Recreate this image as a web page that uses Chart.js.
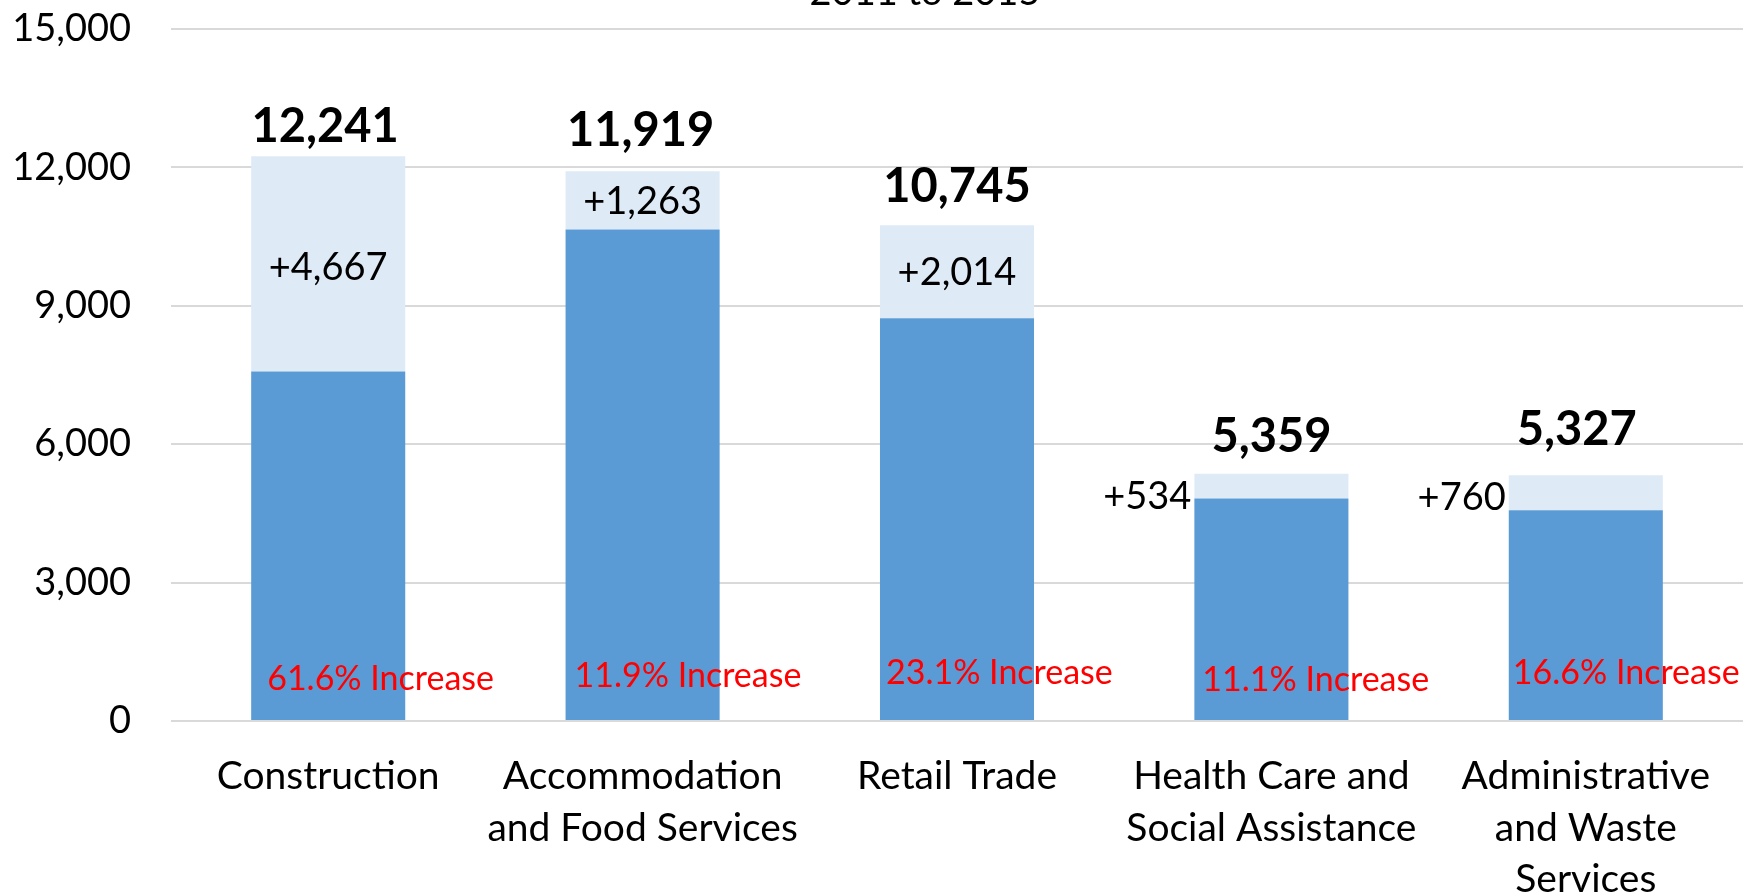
<!DOCTYPE html>
<html>
<head>
<meta charset="utf-8">
<script src="https://cdn.jsdelivr.net/npm/chart.js@4.4.1/dist/chart.umd.min.js"></script>
<style>
html,body{margin:0;padding:0;background:#fff;}
#wrap{width:1752px;height:896px;position:relative;}
</style>
</head>
<body>
<div id="wrap"><canvas id="c" width="1752" height="896"></canvas></div>
<script>
// ---- data ----
const categories = [
  "Construction",
  ["Accommodation", "and Food Services"],
  "Retail Trade",
  ["Health Care and", "Social Assistance"],
  ["Administrative", "and Waste", "Services"]
];
const totals2015 = [12241, 11919, 10745, 5359, 5327];
const increases = [4667, 1263, 2014, 534, 760];
const base2011 = [7574, 10656, 8731, 4825, 4567];
const pctIncrease = ["61.6%", "11.9%", "23.1%", "11.1%", "16.6%"];
const yTicks = [0, 3000, 6000, 9000, 12000, 15000];
const subtitle = "2011 to 2015";

// ---- label placement (style only) ----
const totalDx = [-3, -2, 0, 0, -9];
const totalDy = [29, 40, 38, 37, 45];
const incMode = ['in', 'in', 'in', 'left', 'left'];
const incDy = [4, 1, 1, 11, 5];
const pctDx = [16, 9, 6, 8, 4];
const pctDy = [-42, -45, -48, -41, -48];

const FONT = "Lato, 'Open Sans', sans-serif";
const fmt = v => v.toLocaleString('en-US');

const labelPlugin = {
  id: 'labels',
  afterDatasetsDraw(chart) {
    const ctx = chart.ctx;
    const y = chart.scales.y;
    const m1 = chart.getDatasetMeta(1).data;
    ctx.save();
    ctx.fillStyle = '#000';
    ctx.font = "38px " + FONT;
    ctx.textAlign = 'center';
    ctx.textBaseline = 'alphabetic';
    ctx.fillText(subtitle, 925, 5);
    for (let i = 0; i < categories.length; i++) {
      const top = m1[i];
      const bw = top.width;
      const left = top.x - bw / 2;
      ctx.font = "bold 47px " + FONT;
      ctx.fillStyle = '#000';
      ctx.textAlign = 'center';
      ctx.textBaseline = 'middle';
      ctx.fillText(fmt(totals2015[i]), top.x + totalDx[i], y.getPixelForValue(totals2015[i]) - totalDy[i]);
      ctx.font = "38px " + FONT;
      const mid = (y.getPixelForValue(totals2015[i]) + y.getPixelForValue(base2011[i])) / 2 + incDy[i];
      const txt = '+' + fmt(increases[i]);
      if (incMode[i] === 'in') {
        ctx.textAlign = 'center';
        ctx.fillText(txt, top.x, mid);
      } else {
        ctx.textAlign = 'right';
        ctx.fillText(txt, left - 3, mid);
      }
      ctx.font = "34px " + FONT;
      ctx.fillStyle = '#FF0000';
      ctx.textAlign = 'left';
      ctx.fillText(pctIncrease[i] + ' Increase', left + pctDx[i], y.getPixelForValue(0) + pctDy[i]);
    }
    ctx.restore();
  }
};

new Chart(document.getElementById('c'), {
  type: 'bar',
  data: {
    labels: categories,
    datasets: [
      { label: '2011', data: base2011, backgroundColor: '#5B9BD5', categoryPercentage: 1, barPercentage: 0.49 },
      { label: 'Increase', data: increases, backgroundColor: '#DEEBF7', categoryPercentage: 1, barPercentage: 0.49 }
    ]
  },
  options: {
    responsive: false,
    animation: false,
    layout: { padding: { top: 29, right: 9, left: 0, bottom: 0 } },
    plugins: { legend: { display: false }, tooltip: { enabled: false }, title: { display: false } },
    scales: {
      x: {
        stacked: true,
        grid: { display: false },
        border: { display: false },
        ticks: { color: '#000', font: { family: FONT, size: 39, lineHeight: 1.32 }, padding: 22, maxRotation: 0, autoSkip: false },
        afterFit(s) { s.height = 175; s.paddingLeft = 0; s.paddingRight = 0; }
      },
      y: {
        stacked: true,
        min: 0, max: 15000,
        afterBuildTicks(s) { s.ticks = yTicks.map(v => ({ value: v })); },
        grid: { color: '#D9D9D9', lineWidth: 2, drawTicks: false },
        border: { display: false },
        ticks: { color: '#000', font: { family: FONT, size: 38 }, padding: 40, callback: v => fmt(v) },
        afterFit(s) { s.width = 171; s.paddingTop = 0; s.paddingBottom = 0; }
      }
    }
  },
  plugins: [labelPlugin]
});
</script>
</body>
</html>
